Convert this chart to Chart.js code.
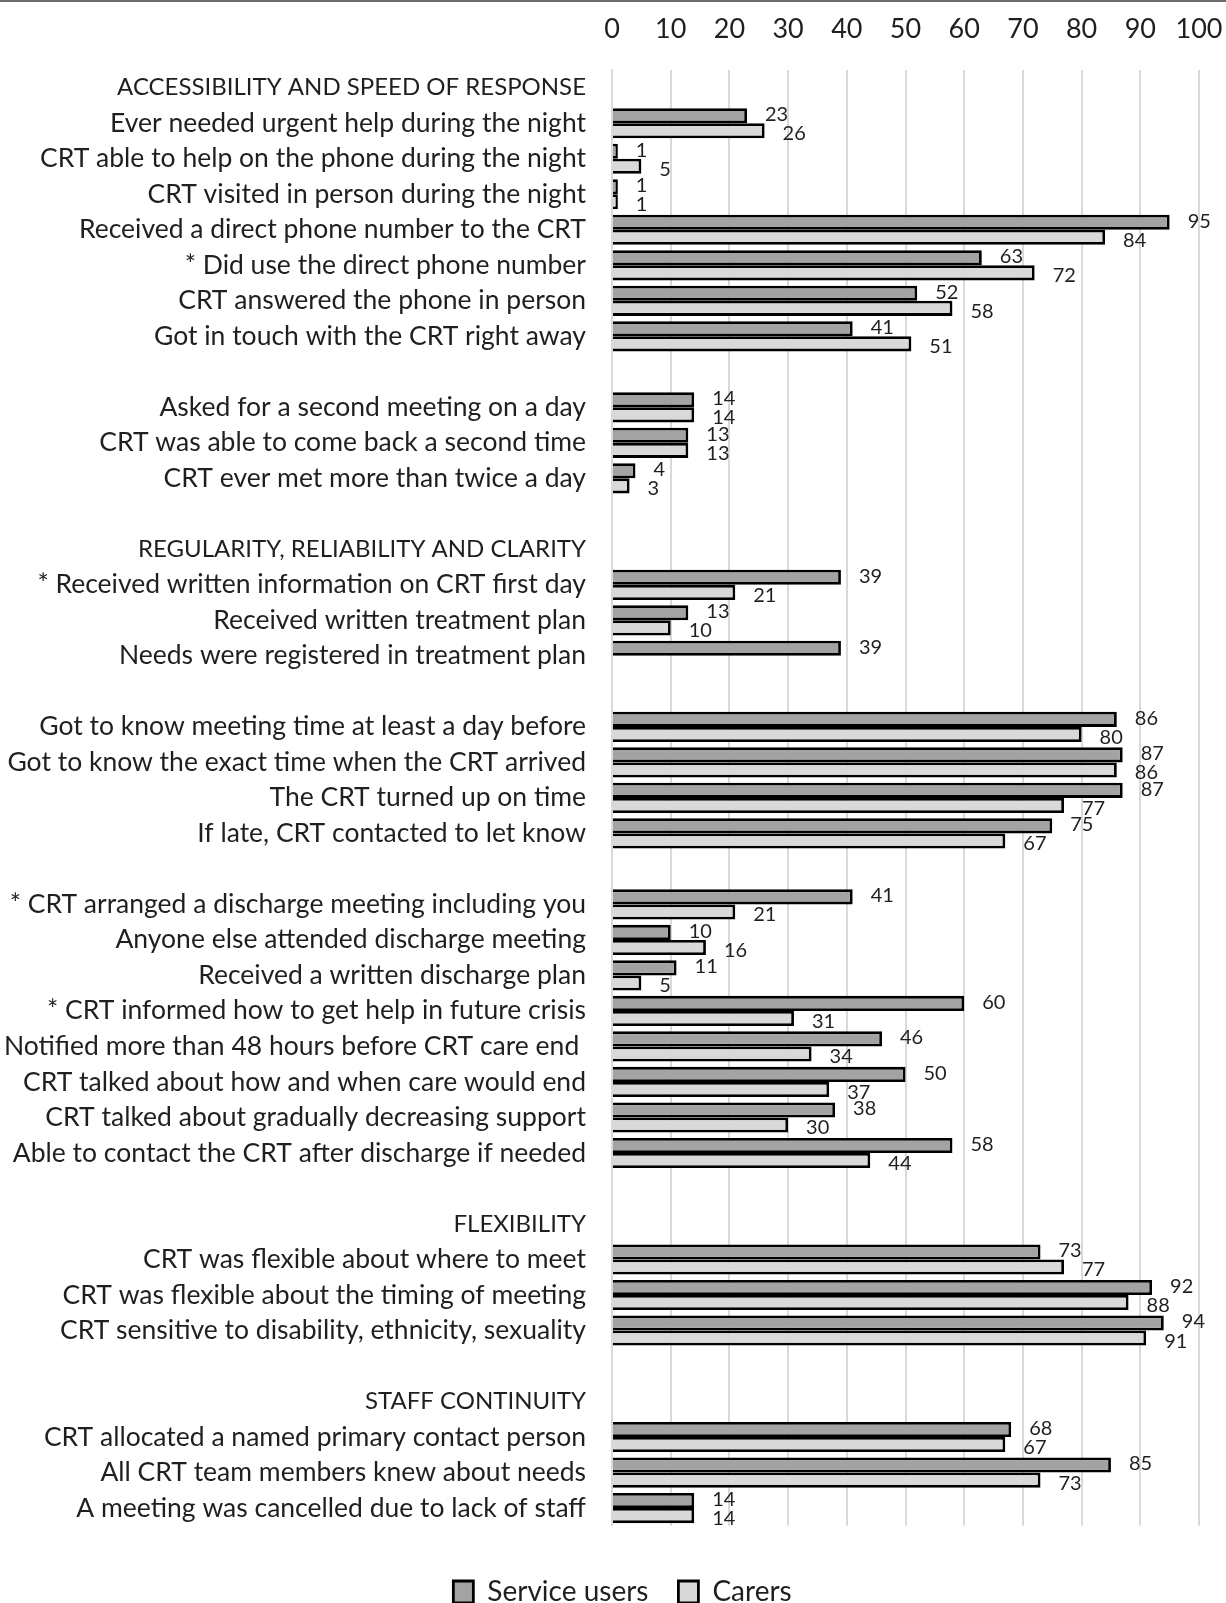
<!DOCTYPE html>
<html>
<head>
<meta charset="utf-8">
<script src="https://cdn.jsdelivr.net/npm/chart.js@4"></script>
<style>
  html, body { margin: 0; padding: 0; background: #fff; overflow: hidden; }
  #wrap { position: relative; width: 1226px; height: 1620px; }
</style>
</head>
<body>
<div id="wrap"><canvas id="myChart"></canvas></div>
<script>
const ctx = document.getElementById('myChart').getContext('2d');

const categories = [
	'ACCESSIBILITY AND SPEED OF RESPONSE',
	'Ever needed urgent help during the night',
	'CRT able to help on the phone during the night',
	'CRT visited in person during the night',
	'Received a direct phone number to the CRT',
	'* Did use the direct phone number',
	'CRT answered the phone in person',
	'Got in touch with the CRT right away',
	'',
	'Asked for a second meeting on a day',
	'CRT was able to come back a second time',
	'CRT ever met more than twice a day',
	'',
	'REGULARITY, RELIABILITY AND CLARITY',
	'* Received written information on CRT first day',
	'Received written treatment plan',
	'Needs were registered in treatment plan',
	'',
	'Got to know meeting time at least a day before',
	'Got to know the exact time when the CRT arrived',
	'The CRT turned up on time',
	'If late, CRT contacted to let know',
	'',
	'* CRT arranged a discharge meeting including you',
	'Anyone else attended discharge meeting',
	'Received a written discharge plan',
	'* CRT informed how to get help in future crisis',
	'Notified more than 48 hours before CRT care end ',
	'CRT talked about how and when care would end',
	'CRT talked about gradually decreasing support',
	'Able to contact the CRT after discharge if needed',
	'',
	'FLEXIBILITY',
	'CRT was flexible about where to meet',
	'CRT was flexible about the timing of meeting',
	'CRT sensitive to disability, ethnicity, sexuality',
	'',
	'STAFF CONTINUITY',
	'CRT allocated a named primary contact person',
	'All CRT team members knew about needs',
	'A meeting was cancelled due to lack of staff'
];

// section headings among the categories (no bars)
const headings = ['ACCESSIBILITY AND SPEED OF RESPONSE', 'REGULARITY, RELIABILITY AND CLARITY',
	'FLEXIBILITY', 'STAFF CONTINUITY'];

const serviceUsers = [null, 23, 1, 1, 95, 63, 52, 41, null, 14, 13, 4, null,
	null, 39, 13, 39, null, 86, 87, 87, 75, null,
	41, 10, 11, 60, 46, 50, 38, 58, null,
	null, 73, 92, 94, null,
	null, 68, 85, 14];

const carers = [null, 26, 5, 1, 84, 72, 58, 51, null, 14, 13, 3, null,
	null, 21, 10, null, null, 80, 86, 77, 67, null,
	21, 16, 5, 31, 34, 37, 30, 44, null,
	null, 77, 88, 91, null,
	null, 67, 73, 14];

const xTicks = [0, 10, 20, 30, 40, 50, 60, 70, 80, 90, 100];

const FONT = 'Lato';
const TEXT_COLOR = '#1f1f1f';

// numbers just right of each bar end
const valueLabels = {
	id: 'valueLabels',
	afterDatasetsDraw(chart) {
		const c = chart.ctx;
		c.save();
		c.font = '20px ' + FONT;
		c.fillStyle = TEXT_COLOR;
		c.textAlign = 'left';
		c.textBaseline = 'middle';
		chart.data.datasets.forEach((ds, i) => {
			const meta = chart.getDatasetMeta(i);
			const dy = i === 0 ? -1 : 3;
			meta.data.forEach((bar, j) => {
				const v = ds.data[j];
				if (v === null || v === undefined) return;
				c.fillText(String(v), bar.x + 18, bar.y + dy);
			});
		});
		c.restore();
	}
};

// thin frame line at the very top, and nudge the legend a bit right
const frame = {
	id: 'frame',
	afterLayout(chart) {
		chart.legend.left += 23;
		chart.legend.right += 23;
	},
	beforeDraw(chart) {
		const c = chart.ctx;
		c.save();
		c.fillStyle = '#6b6b6b';
		c.fillRect(0, 0, chart.width, 2);
		c.restore();
	}
};

new Chart(ctx, {
	type: 'bar',
	data: {
		labels: categories,
		datasets: [{
			label: 'Service users',
			data: serviceUsers,
			backgroundColor: '#a3a3a3',
			borderColor: '#000',
			borderWidth: 2.8
		},
		{
			label: 'Carers',
			data: carers,
			backgroundColor: '#d9d9d9',
			borderColor: '#000',
			borderWidth: 2.8
		}]
	},
	options: {
		indexAxis: 'y',
		responsive: true,
		maintainAspectRatio: false,
		animation: false,
		datasets: {
			bar: {
				categoryPercentage: 0.85,
				barPercentage: 1
			}
		},
		layout: {
			padding: {left: 0, right: 27, top: 0, bottom: 4}
		},
		scales: {
			x: {
				position: 'top',
				min: 0,
				max: 100,
				afterBuildTicks: (scale) => {
					scale.ticks = xTicks.map((v) => ({value: v}));
				},
				afterFit: (scale) => {
					scale.height = 70;
					scale.paddingLeft = 0;
					scale.paddingRight = 0;
				},
				grid: {
					color: '#d9d9d9',
					lineWidth: 2,
					drawTicks: false
				},
				border: {display: false},
				ticks: {
					padding: 25,
					color: TEXT_COLOR,
					font: {family: FONT, size: 27}
				}
			},
			y: {
				afterFit: (scale) => {
					scale.width = 612;
				},
				grid: {display: false, drawTicks: false},
				border: {display: true, color: '#d9d9d9', width: 2},
				ticks: {
					padding: 26,
					autoSkip: false,
					color: TEXT_COLOR,
					font: (c) => ({
						family: FONT,
						size: headings.includes(categories[c.index]) ? 24 : 26.5
					})
				}
			}
		},
		plugins: {
			tooltip: {enabled: false},
			legend: {
				position: 'bottom',
				title: {
					display: true,
					text: ' ',
					font: {size: 1},
					padding: {top: 21, bottom: 0}
				},
				labels: {
					boxWidth: 20,
					boxHeight: 22,
					padding: 30,
					color: TEXT_COLOR,
					font: {family: FONT, size: 28}
				}
			}
		}
	},
	plugins: [valueLabels, frame]
});
</script>
</body>
</html>
